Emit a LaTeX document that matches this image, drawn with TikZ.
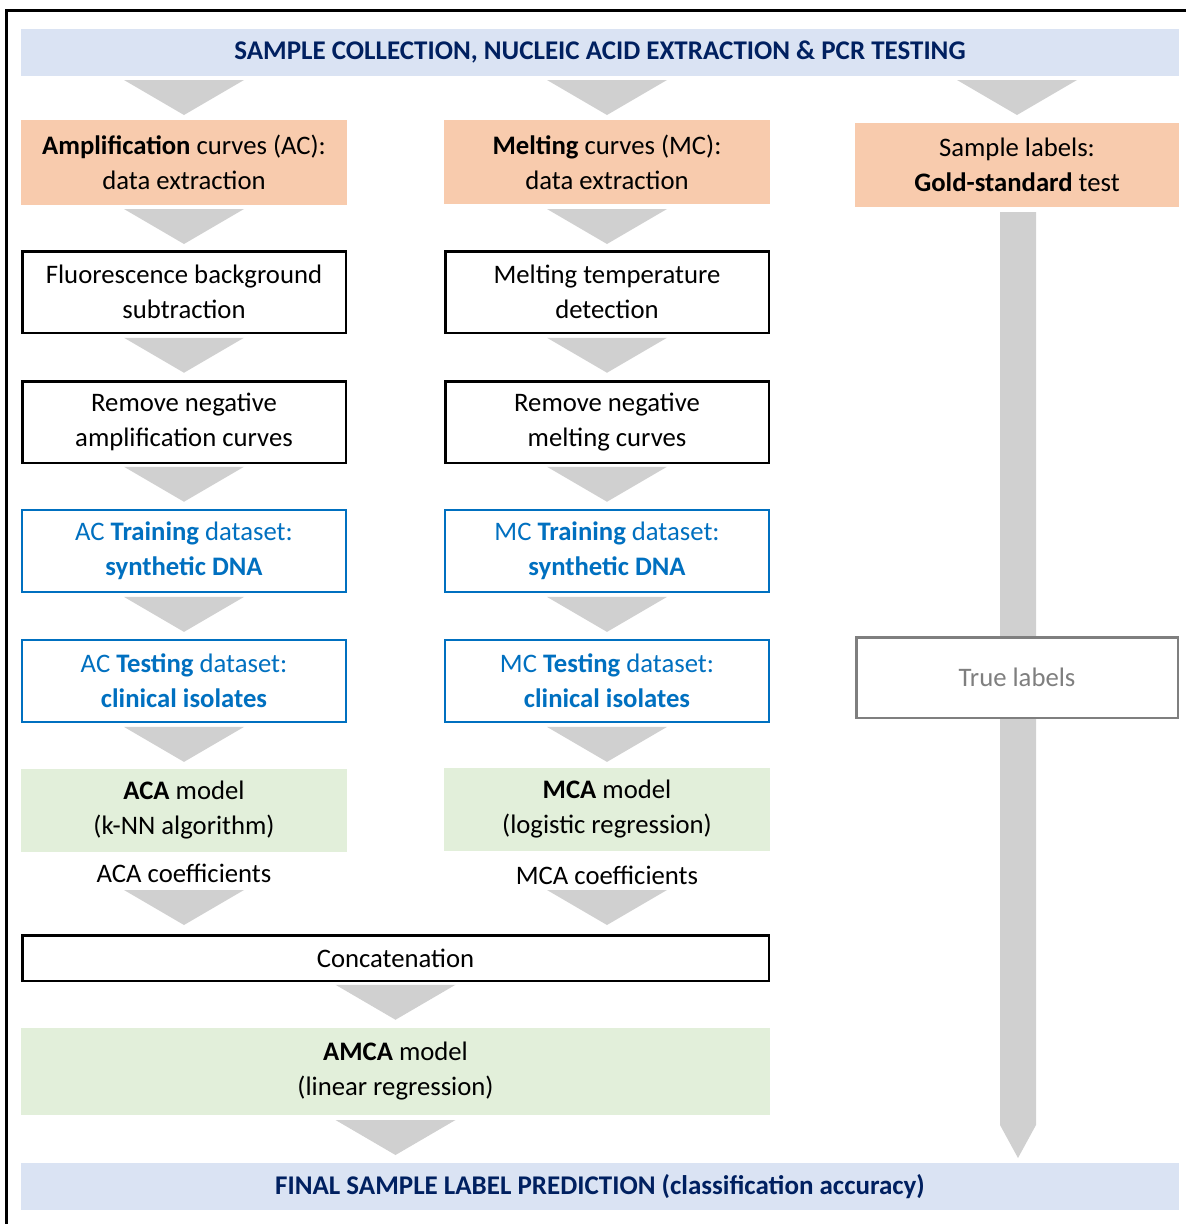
\documentclass[tikz,border=0pt]{standalone}
\usepackage{fontspec}
\setmainfont{Carlito}
\usetikzlibrary{calc}
\definecolor{bannerblue}{HTML}{DAE3F3}
\definecolor{navy}{HTML}{002060}
\definecolor{orangefill}{HTML}{F8CBAD}
\definecolor{greenfill}{HTML}{E2EFDA}
\definecolor{chevgray}{HTML}{D0D0D0}
\definecolor{boxblue}{HTML}{0070C0}
\definecolor{labelgray}{HTML}{7F7F7F}
\newcommand\chev[1]{\fill[chevgray] ($#1+(-60,0)$) -- ($#1+(60,0)$) -- ($#1+(0,35)$) -- cycle;}
\begin{document}
\begin{tikzpicture}[x=1pt,y=-1pt,
  every node/.style={inner sep=0pt, outer sep=0pt, align=center, font=\fontsize{26.7}{35}\selectfont},
  banner/.style={fill=bannerblue, text=navy, font=\fontsize{27}{30}\selectfont\bfseries, minimum width=1158pt, minimum height=47pt},
  orangebox/.style={fill=orangefill, minimum width=326pt, minimum height=85pt},
  plainbox/.style={draw=black, fill=white, line width=2.5pt, minimum width=323.5pt, minimum height=81.5pt},
  bluebox/.style={draw=boxblue, fill=white, text=boxblue, line width=2.2pt, minimum width=323.8pt, minimum height=81.8pt},
  greenbox/.style={fill=greenfill, minimum width=326pt, minimum height=84pt},
  graybox/.style={draw=labelgray, fill=white, text=labelgray, line width=2.5pt, minimum width=321.5pt, minimum height=80.5pt},
  plaintext/.style={}
]
\useasboundingbox (0,0) rectangle (1186,1224);
% outer frame (cut at right and bottom)
\draw[line width=2.5pt] (6.5,1224) -- (6.5,10.5) -- (1186,10.5);

\node[banner] (top) at (600,52.5) {SAMPLE COLLECTION, NUCLEIC ACID EXTRACTION \& PCR TESTING};

\node[orangebox] (ac) at (184,162.5) {\textbf{Amplification} curves (AC):\\data extraction};
\node[orangebox, minimum height=84pt] (mc) at (607,162) {\textbf{Melting} curves (MC):\\data extraction};
\node[orangebox, minimum width=324pt, minimum height=84pt] (sl) at (1017,165) {Sample labels:\\\textbf{Gold-standard} test};

\node[plainbox] (fbs) at (184,292) {Fluorescence background\\subtraction};
\node[plainbox] (mtd) at (607,292) {Melting temperature\\detection};
\node[plainbox] (rna) at (184,422) {Remove negative\\amplification curves};
\node[plainbox] (rnm) at (607,422) {Remove negative\\melting curves};

\node[bluebox] (actr) at (184,551) {AC \textbf{Training} dataset:\\\textbf{synthetic DNA}};
\node[bluebox] (mctr) at (607,551) {MC \textbf{Training} dataset:\\\textbf{synthetic DNA}};
\node[bluebox] (acte) at (184,681) {AC \textbf{Testing} dataset:\\\textbf{clinical isolates}};
\node[bluebox] (mcte) at (607,681) {MC \textbf{Testing} dataset:\\\textbf{clinical isolates}};

\node[greenbox, minimum height=83pt] (aca) at (184,810.5) {\textbf{ACA} model\\(k-NN algorithm)};
\node[greenbox, minimum height=83pt] (mca) at (607,809.5) {\textbf{MCA} model\\(logistic regression)};
\node[plaintext] (acacoef) at (184,873) {ACA coefficients};
\node[plaintext] (mcacoef) at (607,875) {MCA coefficients};

\node[draw=black, line width=2.5pt, minimum width=746.5pt, minimum height=45.5pt] (conc) at (395.5,958) {Concatenation};
\node[greenbox, minimum width=749pt, minimum height=87pt] (amca) at (395.5,1071.5) {\textbf{AMCA} model\\(linear regression)};

\node[banner] (final) at (600,1186.5) {FINAL SAMPLE LABEL PREDICTION (classification accuracy)};

% right column bar to final
\fill[chevgray] ($(sl.south)+(-17,5)$) -- ($(sl.south)+(19,5)$) -- ($(final.north -| sl.south)+(19,-38)$) -- ($(final.north -| sl.south)+(1,-5)$) -- ($(final.north -| sl.south)+(-17,-38)$) -- cycle;
\node[graybox] (true) at (1017,677.5) {True labels};

% chevrons
\chev{(top.south -| ac.south)+(0,4)}
\chev{(top.south -| mc.south)+(0,4)}
\chev{(top.south -| sl.south)+(0,4)}
\chev{(ac.south)+(0,4)}
\chev{(mc.south)+(0,5)}
\chev{(fbs.south)+(0,5)}
\chev{(mtd.south)+(0,5)}
\chev{(rna.south)+(0,4)}
\chev{(rnm.south)+(0,4)}
\chev{(actr.south)+(0,5)}
\chev{(mctr.south)+(0,5)}
\chev{(acte.south)+(0,5)}
\chev{(mcte.south)+(0,5)}
\chev{(aca.south)+(0,38)}
\chev{(mca.south)+(0,39)}
\chev{(conc.south)+(0,4)}
\chev{(amca.south)+(0,5)}
\end{tikzpicture}
\end{document}
